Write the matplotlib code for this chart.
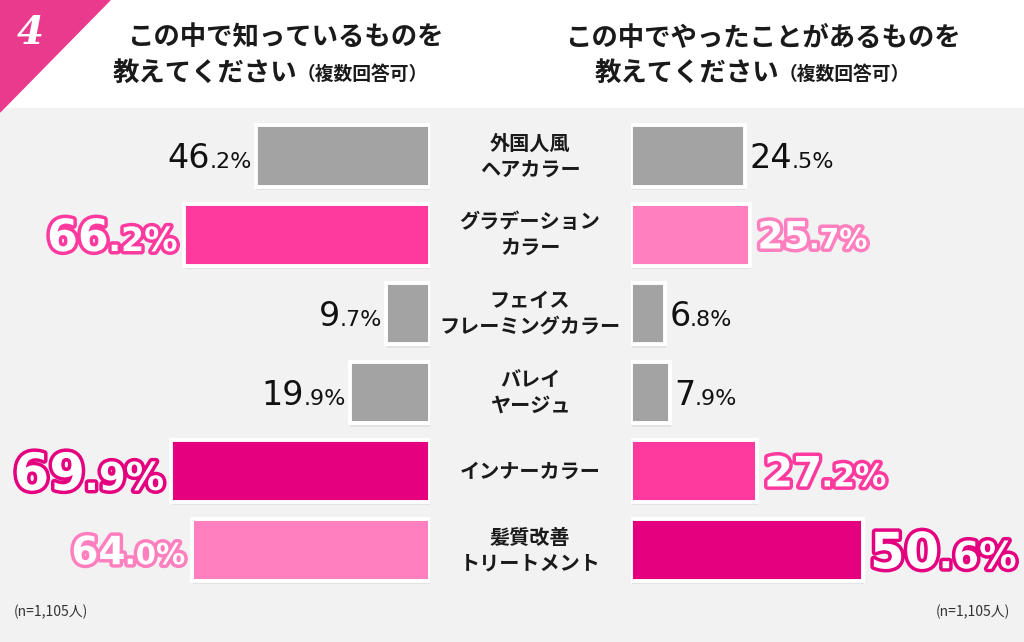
import matplotlib
matplotlib.use('Agg')
import matplotlib.pyplot as plt
from matplotlib import patheffects as pe
from matplotlib.patches import Rectangle, Polygon
import matplotlib.transforms as mtransforms

# data
categories = ['外国人風\nヘアカラー', 'グラデーション\nカラー', 'フェイス\nフレーミングカラー',
              'バレイ\nヤージュ', 'インナーカラー', '髪質改善\nトリートメント']
known = [46.2, 66.2, 9.7, 19.9, 69.9, 64.0]   # この中で知っているもの
tried = [24.5, 25.7, 6.8, 7.9, 27.2, 50.6]    # この中でやったことがあるもの
title_left = ['この中で知っているものを', '教えてください', '（複数回答可）']
title_right = ['この中でやったことがあるものを', '教えてください', '（複数回答可）']
note = '(n=1,105人)'

# styles
GRAY = '#a3a3a3'
RANK_COLORS = ['#e4007f', '#ff3a9f', '#ff7fbf']
BG = '#f2f2f2'
JP = ['Noto Sans CJK JP', 'DejaVu Sans']

W, H = 1024, 642
fig = plt.figure(figsize=(W / 100, H / 100), dpi=100)
fig.patch.set_facecolor('white')


def fx(px):
    return px / W


def fy(py):
    return 1 - py / H


# background pieces
fig.add_artist(Rectangle((0, 0), 1, fy(108), transform=fig.transFigure,
                         color=BG, zorder=0))
fig.add_artist(Polygon([(0, 1), (fx(110), 1), (0, fy(112))], closed=True,
                       transform=fig.transFigure, color='#ea3a8e', zorder=1))
fig.text(fx(30), fy(33), '4', color='white', fontsize=28, family='DejaVu Serif',
         style='italic', weight='bold', ha='center', va='center')

# titles
for title, cx, split in [(title_left, 285, 297), (title_right, 763, 779)]:
    fig.text(fx(cx), fy(38), title[0], family=JP, fontsize=19, weight='bold',
             ha='center', va='center', color='#1a1a1a')
    fig.text(fx(split), fy(73), title[1], family=JP, fontsize=19, weight='bold',
             ha='right', va='center', color='#1a1a1a')
    fig.text(fx(split), fy(74), title[2], family=JP, fontsize=13.5, weight='bold',
             ha='left', va='center', color='#1a1a1a')

fig.text(fx(14), fy(612), note, family=JP, fontsize=10, ha='left', va='center', color='#333333')
fig.text(fx(1010), fy(612), note, family=JP, fontsize=10, ha='right', va='center', color='#333333')

# axes: row centres at 156 px, step 78.8 px
row0, step = 156, 78.8
ylim = ((642 - row0) / step, -(row0 - 108) / step)
axL = fig.add_axes([0, 0, fx(430), fy(108)])
axR = fig.add_axes([fx(631), 0, 1 - fx(631), fy(108)])

# (axis, values, px per %, base pad %, direction, label font sizes by rank)
panels = [(axL, known, 3.57, 2.6, -1, [37, 32, 28]),
          (axR, tried, 4.52, 0.73, 1, [36, 30, 27])]

renderer = fig.canvas.get_renderer()


def value_label(ax, y, v, sign, color, size):
    big, dec = f'{v:.1f}'.split('.')
    small = '.' + dec + '%'
    ha = 'right' if sign < 0 else 'left'
    if color is None:
        kw = dict(color='#111111', family='DejaVu Sans')
        sizes = (24, 16)
        gap = 3
    else:
        kw = dict(color='white', family='DejaVu Sans', weight='bold',
                  path_effects=[pe.Stroke(linewidth=5, foreground=color), pe.Normal()])
        sizes = (size, size * 0.75)
        gap = 5
    dy = -0.365 * sizes[0]
    parts = [(small, sizes[1]), (big, sizes[0])] if sign < 0 else [(big, sizes[0]), (small, sizes[1])]
    off = gap
    for txt, fs in parts:
        t = ax.annotate(txt, (v, y), xytext=(sign * off, dy), textcoords='offset points',
                        ha=ha, va='baseline', fontsize=fs, zorder=5, **kw)
        off += t.get_window_extent(renderer).width * 72 / fig.dpi - 0.5


for ax, vals, scale, base, sign, rsizes in panels:
    ax.set_facecolor('none')
    ax.set_ylim(*ylim)
    width_px = ax.get_position().width * W
    if sign < 0:
        ax.set_xlim(-base + width_px / scale, -base)
    else:
        ax.set_xlim(-base, -base + width_px / scale)
    order = sorted(range(len(vals)), key=lambda i: -vals[i])
    rank = {i: r for r, i in enumerate(order)}
    colors = [RANK_COLORS[rank[i]] if rank[i] < 3 else GRAY for i in range(len(vals))]
    bars = ax.barh(range(len(vals)), [v + base for v in vals], left=-base, height=0.78,
                   color=colors, edgecolor='white', linewidth=2.8, zorder=3)
    for b in bars:
        b.set_path_effects([pe.SimplePatchShadow(offset=(0.5, -2.5), shadow_rgbFace='black',
                                                 alpha=0.06), pe.Normal()])
    for i, v in enumerate(vals):
        c = RANK_COLORS[rank[i]] if rank[i] < 3 else None
        value_label(ax, i, v, sign, c, rsizes[min(rank[i], 2)])
    ax.axis('off')
    ax.set_clip_on(False)

# category labels centred between the panels
tr = mtransforms.blended_transform_factory(fig.transFigure, axL.transData)
for i, cat in enumerate(categories):
    fig.text(fx(530), i, cat, transform=tr, family=JP, fontsize=14.5, weight='bold',
             ha='center', va='center', linespacing=1.28, color='#1a1a1a', multialignment='center')

fig.savefig('out.png', dpi=100)
